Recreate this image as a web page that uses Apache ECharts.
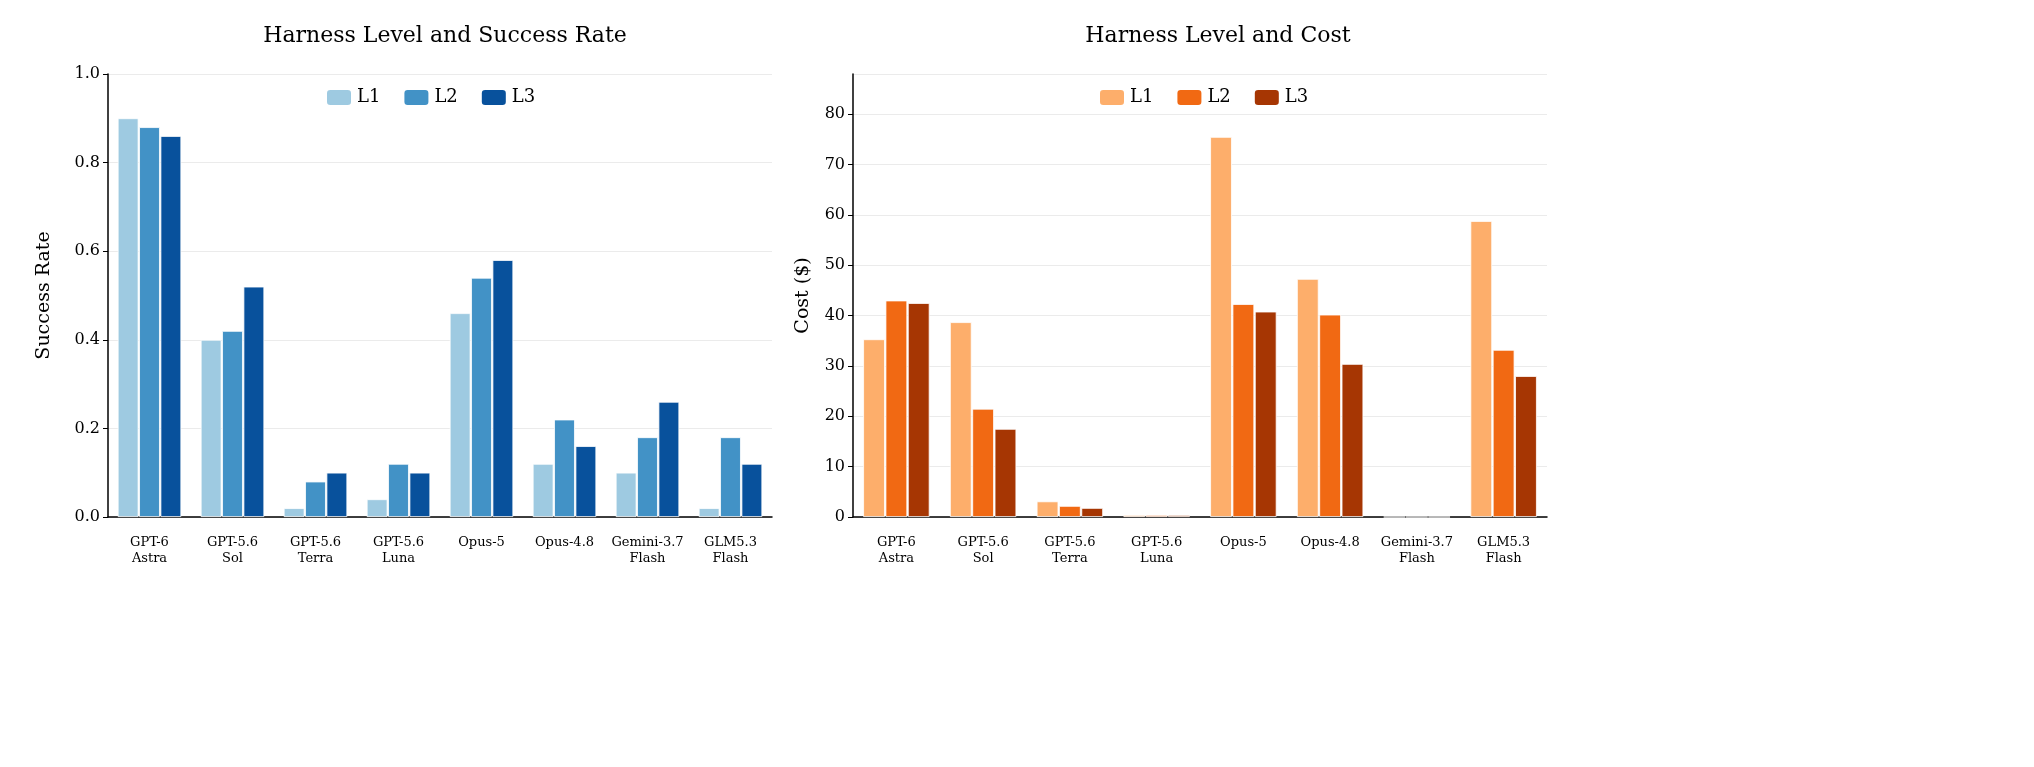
<!DOCTYPE html>
<html><head><meta charset="utf-8">
<script src="https://cdn.jsdelivr.net/npm/echarts@6/dist/echarts.min.js"></script>
<style>html,body{margin:0;background:#fff}#c{width:2034px;height:767px}</style>
</head><body><div id="c"></div>
<script>
var models = ['GPT-6\nAstra', 'GPT-5.6\nSol', 'GPT-5.6\nTerra', 'GPT-5.6\nLuna', 'Opus-5', 'Opus-4.8', 'Gemini-3.7\nFlash', 'GLM5.3\nFlash'];
var rateL1 = [0.90, 0.40, 0.02, 0.04, 0.46, 0.12, 0.10, 0.02];
var rateL2 = [0.88, 0.42, 0.08, 0.12, 0.54, 0.22, 0.18, 0.18];
var rateL3 = [0.86, 0.52, 0.10, 0.10, 0.58, 0.16, 0.26, 0.12];
var costL1 = [35.3, 38.7, 3.1, 0.4, 75.5, 47.3, 0, 58.8];
var costL2 = [43.0, 21.5, 2.2, 0.4, 42.3, 40.2, 0, 33.2];
var costL3 = [42.5, 17.5, 1.8, 0.4, 40.8, 30.4, 0, 28.0];
var blues = ['#9ecae1', '#4292c6', '#08519c'];
var oranges = ['#fdae6b', '#f16913', '#a63603'];

var font = 'DejaVu Serif';
var chart = echarts.init(document.getElementById('c'));

function xAxis(i) {
  return {
    type: 'category', gridIndex: i, data: models,
    axisLine: {lineStyle: {color: '#000', width: 1.5}},
    axisTick: {alignWithLabel: true, length: 5, lineStyle: {color: '#000'}},
    axisLabel: {color: '#000', fontFamily: font, fontSize: 13, lineHeight: 16, margin: 18, interval: 0}
  };
}
function yAxis(i, name, max, interval, fmt) {
  return {
    type: 'value', gridIndex: i, min: 0, max: max, interval: interval,
    name: name, nameLocation: 'middle', nameGap: i == 0 ? 54 : 40,
    nameTextStyle: {color: '#000', fontFamily: font, fontSize: 19},
    axisLine: {show: true, lineStyle: {color: '#000', width: 1.5}},
    axisTick: {show: true, length: 5, lineStyle: {color: '#000'}},
    axisLabel: {color: '#000', fontFamily: font, fontSize: 16, formatter: fmt, showMaxLabel: i == 0},
    splitLine: {lineStyle: {color: '#ebebeb'}}
  };
}
function bars(name, data, color, axis) {
  return {
    name: name, type: 'bar', data: data, xAxisIndex: axis, yAxisIndex: axis,
    barWidth: '25%', barGap: '3%',
    itemStyle: {color: color, borderColor: '#fff', borderWidth: 0.8}
  };
}

var option = {
  animation: false,
  title: [
    {text: 'Harness Level and Success Rate', left: 440, top: 20, textAlign: 'center',
     textStyle: {fontFamily: font, fontWeight: 'normal', fontSize: 22, color: '#000'}},
    {text: 'Harness Level and Cost', left: 1213, top: 20, textAlign: 'center',
     textStyle: {fontFamily: font, fontWeight: 'normal', fontSize: 22, color: '#000'}}
  ],
  legend: [
    {data: ['L1 ', 'L2 ', 'L3 '].map(function (n) { return n; }), formatter: function (n) { return n.trim(); },
     left: 440, top: 83, textAlign: 'center', itemWidth: 26, itemHeight: 17, itemGap: 22,
     textStyle: {fontFamily: font, fontSize: 18, color: '#000'}},
    {data: ['L1', 'L2', 'L3'], left: 1213, top: 83, itemWidth: 26, itemHeight: 17, itemGap: 22,
     textStyle: {fontFamily: font, fontSize: 18, color: '#000'}}
  ],
  grid: [
    {left: 108, right: 1262, top: 74, bottom: 250},
    {left: 853, right: 487, top: 74, bottom: 250}
  ],
  xAxis: [xAxis(0), xAxis(1)],
  yAxis: [
    yAxis(0, 'Success Rate', 1.0, 0.2, function (v) { return v.toFixed(1); }),
    yAxis(1, 'Cost ($)', 88, 10, function (v) { return v; })
  ],
  series: [
    bars('L1 ', rateL1, blues[0], 0),
    bars('L2 ', rateL2, blues[1], 0),
    bars('L3 ', rateL3, blues[2], 0),
    bars('L1', costL1, oranges[0], 1),
    bars('L2', costL2, oranges[1], 1),
    bars('L3', costL3, oranges[2], 1)
  ]
};
chart.setOption(option);
// center the second legend too
chart.setOption({legend: [{}, {left: 1213 - 120}]});
chart.setOption({legend: [{left: 440 - 120}, {}]});
</script>
</body></html>
